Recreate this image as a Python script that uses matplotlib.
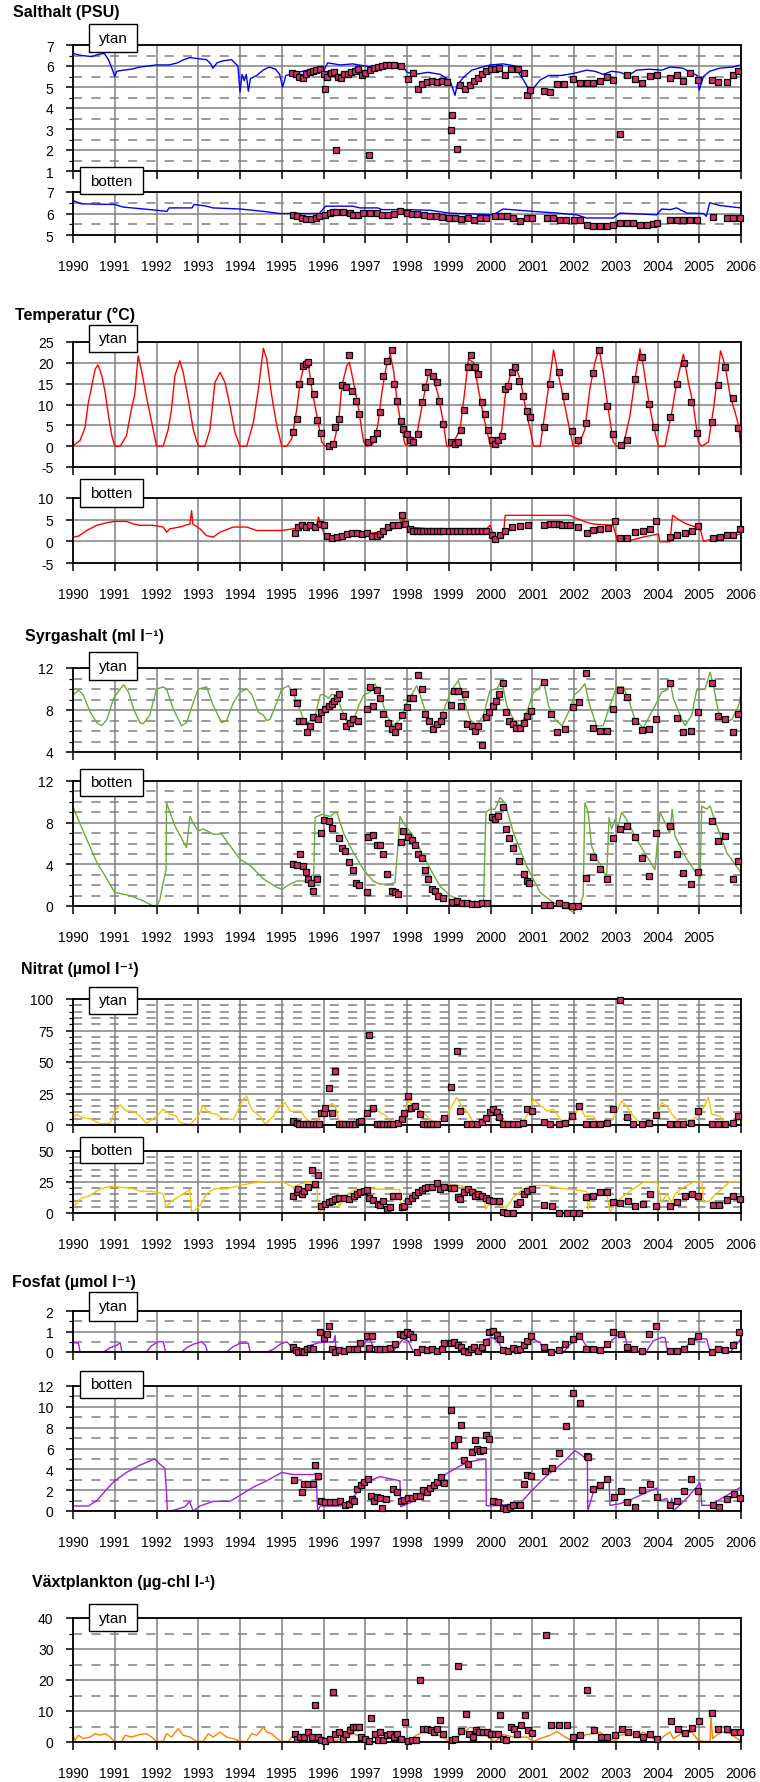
import matplotlib
matplotlib.use('Agg')
import matplotlib.pyplot as plt
from matplotlib.patches import Rectangle

plt.rcParams['font.family'] = ['Liberation Sans', 'DejaVu Sans']

# ---------------- DATA ----------------
years = list(range(1990, 2007))

sal_ytan_line = [(1990.0,6.6),(1990.2,6.5),(1990.45,6.45),(1990.6,6.55),(1990.75,6.6),(1990.85,6.3),(1990.95,5.8),(1991.0,5.5),(1991.05,5.75),(1991.2,5.8),(1991.4,5.85),(1991.6,5.95),(1991.8,6.0),(1992.0,6.05),(1992.3,6.05),(1992.5,6.15),(1992.65,6.3),(1992.8,6.4),(1993.0,6.35),(1993.2,6.3),(1993.3,6.1),(1993.35,5.9),(1993.45,6.15),(1993.6,6.25),(1993.8,6.3),(1993.95,6.0),(1994.0,4.75),(1994.05,5.6),(1994.1,5.3),(1994.15,5.6),(1994.2,4.8),(1994.25,5.4),(1994.4,5.55),(1994.55,5.8),(1994.7,5.95),(1994.85,5.85),(1994.95,5.6),(1995.02,5.0),(1995.1,5.55),(1995.3,5.65),(1995.5,5.75),(1995.7,5.85),(1995.85,5.9),(1996.0,5.75),(1996.1,6.15),(1996.4,6.05),(1996.7,6.1),(1997.0,6.0),(1997.3,5.9),(1997.6,6.05),(1997.9,6.0),(1998.0,5.7),(1998.2,5.6),(1998.5,5.7),(1998.8,5.6),(1998.95,5.4),(1999.05,5.2),(1999.15,4.6),(1999.2,5.1),(1999.35,5.45),(1999.55,5.8),(1999.8,5.95),(2000.0,6.05),(2000.3,6.1),(2000.6,6.0),(2000.7,5.6),(2000.8,5.3),(2000.9,4.95),(2000.95,4.6),(2001.05,5.0),(2001.2,5.35),(2001.4,5.55),(2001.7,5.55),(2002.0,5.65),(2002.3,5.8),(2002.5,5.75),(2002.7,5.6),(2002.9,5.75),(2003.1,5.7),(2003.3,5.55),(2003.5,5.8),(2003.8,5.85),(2004.1,5.8),(2004.3,5.95),(2004.6,5.9),(2004.8,5.7),(2004.95,5.55),(2005.0,4.85),(2005.1,5.5),(2005.25,5.75),(2005.5,5.9),(2005.8,5.95),(2006.0,6.05)]
sal_ytan_obs = [(1995.25,5.65),(1995.33,5.6),(1995.42,5.5),(1995.5,5.45),(1995.58,5.6),(1995.67,5.7),(1995.75,5.75),(1995.83,5.8),(1995.92,5.85),(1996.0,5.6),(1996.04,4.9),(1996.08,5.5),(1996.17,5.65),(1996.25,5.7),(1996.3,2.0),(1996.35,5.5),(1996.42,5.45),(1996.5,5.6),(1996.58,5.6),(1996.67,5.7),(1996.75,5.75),(1996.83,5.85),(1996.92,5.55),(1997.0,5.65),(1997.08,1.75),(1997.12,5.8),(1997.2,5.9),(1997.3,5.95),(1997.4,6.0),(1997.5,6.05),(1997.6,6.05),(1997.7,6.05),(1997.85,6.0),(1998.03,5.4),(1998.15,5.65),(1998.27,4.9),(1998.35,5.15),(1998.47,5.25),(1998.6,5.3),(1998.72,5.25),(1998.85,5.3),(1998.95,5.25),(1999.07,3.65),(1999.05,2.95),(1999.19,2.05),(1999.27,5.1),(1999.4,4.9),(1999.5,5.1),(1999.6,5.3),(1999.7,5.45),(1999.8,5.6),(1999.9,5.75),(2000.0,5.85),(2000.1,5.85),(2000.2,5.9),(2000.35,5.55),(2000.5,5.85),(2000.65,5.85),(2000.8,5.65),(2000.87,4.6),(2000.95,4.85),(2001.27,4.8),(2001.43,4.75),(2001.6,5.15),(2001.75,5.15),(2001.98,5.4),(2002.14,5.2),(2002.3,5.2),(2002.46,5.2),(2002.62,5.3),(2002.78,5.48),(2002.94,5.33),(2003.1,2.78),(2003.26,5.56),(2003.46,5.37),(2003.62,5.17),(2003.82,5.52),(2003.98,5.55),(2004.3,5.44),(2004.46,5.56),(2004.62,5.29),(2004.78,5.65),(2004.98,5.33),(2005.3,5.32),(2005.46,5.24),(2005.66,5.24),(2005.82,5.57),(2005.94,5.76)]

sal_bott_line = [(1990.0,6.6),(1990.2,6.45),(1991.0,6.42),(1991.2,6.3),(1991.85,6.18),(1992.25,6.1),(1992.3,6.26),(1992.85,6.26),(1992.9,6.42),(1993.2,6.34),(1993.35,6.26),(1994.0,6.21),(1994.55,6.1),(1994.95,6.0),(1995.9,6.0),(1996.05,6.34),(1996.7,6.34),(1996.87,6.26),(1997.3,6.26),(1997.4,6.18),(1998.0,6.18),(1998.55,6.15),(1999.0,6.02),(2000.07,5.94),(2000.3,6.21),(2001.0,6.1),(2001.6,6.02),(2002.06,5.94),(2002.3,5.79),(2002.94,5.79),(2003.1,6.02),(2003.98,5.94),(2004.1,6.21),(2004.3,6.18),(2004.46,6.26),(2004.7,6.02),(2005.1,6.0),(2005.17,5.87),(2005.25,6.5),(2005.5,6.37),(2006.0,6.26)]
sal_bott_obs = [(1995.28,5.94),(1995.36,5.87),(1995.48,5.79),(1995.58,5.76),(1995.7,5.76),(1995.82,5.79),(1995.9,5.87),(1996.03,5.94),(1996.15,6.02),(1996.23,6.07),(1996.31,6.08),(1996.47,6.07),(1996.63,6.02),(1996.7,5.94),(1996.82,5.94),(1996.95,6.02),(1997.11,6.02),(1997.27,6.02),(1997.4,5.95),(1997.55,5.95),(1997.7,5.97),(1997.83,6.1),(1998.0,6.02),(1998.12,6.0),(1998.25,5.97),(1998.4,5.92),(1998.55,5.9),(1998.7,5.88),(1998.85,5.85),(1999.0,5.8),(1999.15,5.78),(1999.3,5.75),(1999.45,5.78),(1999.6,5.72),(1999.75,5.78),(1999.9,5.8),(2000.1,5.87),(2000.25,5.87),(2000.4,5.87),(2000.55,5.8),(2000.7,5.63),(2000.87,5.79),(2001.0,5.79),(2001.35,5.79),(2001.5,5.79),(2001.66,5.7),(2001.82,5.7),(2002.0,5.7),(2002.15,5.7),(2002.3,5.46),(2002.46,5.42),(2002.62,5.42),(2002.78,5.44),(2002.94,5.46),(2003.1,5.55),(2003.26,5.55),(2003.42,5.55),(2003.58,5.47),(2003.74,5.47),(2003.9,5.5),(2003.98,5.55),(2004.3,5.7),(2004.46,5.7),(2004.62,5.72),(2004.78,5.7),(2004.94,5.7),(2005.33,5.83),(2005.66,5.79),(2005.82,5.79),(2005.98,5.79)]

temp_ytan_line = [(1990.0,0),(1990.17,1.4),(1990.29,4.5),(1990.36,10),(1990.45,14.5),(1990.53,18.5),(1990.6,19.5),(1990.69,16.9),(1990.77,12.9),(1990.85,7.3),(1990.93,2.5),(1991.0,0),(1991.13,0),(1991.28,2.5),(1991.4,8.9),(1991.48,12.5),(1991.56,21.7),(1991.65,17.7),(1991.77,11.3),(1991.9,5),(1992.0,0),(1992.16,0),(1992.28,4),(1992.36,8.9),(1992.44,16.9),(1992.56,20.5),(1992.64,17.7),(1992.76,11.3),(1992.88,4),(1993.0,0),(1993.16,0),(1993.28,4),(1993.4,15.3),(1993.52,17.7),(1993.64,15.3),(1993.76,9.7),(1993.88,3.3),(1994.0,0),(1994.16,0),(1994.32,5.7),(1994.44,13.7),(1994.56,23.5),(1994.64,20.9),(1994.76,12.1),(1994.88,5),(1995.0,0),(1995.12,0),(1995.24,1.8),(1995.36,8.9),(1995.44,15.3),(1995.56,20.5),(1995.64,19.4),(1995.72,13.7),(1995.84,7.3),(1995.96,1),(1996.04,0),(1996.24,0.5),(1996.36,5.7),(1996.44,14.5),(1996.56,19.3),(1996.62,20.1),(1996.72,15.3),(1996.84,8.9),(1996.96,1),(1997.04,0),(1997.18,0.5),(1997.3,5),(1997.4,13),(1997.5,19),(1997.6,22),(1997.68,18),(1997.76,11),(1997.86,5),(1997.95,0.5),(1998.07,0),(1998.23,2.5),(1998.39,11.3),(1998.51,17.2),(1998.63,16.5),(1998.75,12.1),(1998.87,5.7),(1998.95,0),(1999.07,0),(1999.27,4),(1999.39,13.7),(1999.47,20.9),(1999.59,20.1),(1999.71,13.7),(1999.83,7.3),(2000.0,0),(2000.15,0),(2000.27,4),(2000.35,12),(2000.47,16.9),(2000.59,19.3),(2000.71,16.1),(2000.83,9.7),(2000.95,4),(2001.03,0),(2001.19,0),(2001.35,11.3),(2001.43,16.9),(2001.51,23.1),(2001.58,19.3),(2001.7,13.7),(2001.86,5.7),(2001.98,0),(2002.1,0),(2002.26,4),(2002.38,13.7),(2002.5,20.1),(2002.6,23.4),(2002.7,17.7),(2002.82,8.9),(2002.94,1),(2003.02,0),(2003.18,0.2),(2003.34,7.3),(2003.46,16.1),(2003.58,23.4),(2003.66,19.3),(2003.78,11.3),(2003.9,5),(2004.02,0),(2004.18,0),(2004.34,8.1),(2004.46,15.3),(2004.62,22.1),(2004.74,15.3),(2004.86,9.7),(2004.98,1),(2005.06,0),(2005.22,1),(2005.34,8.9),(2005.42,15.3),(2005.51,22.9),(2005.62,19.3),(2005.74,12.1),(2005.86,8.1),(2005.94,5),(2006.0,-0.5)]
temp_ytan_obs = [(1995.28,3.5),(1995.36,6.5),(1995.42,15),(1995.5,19.3),(1995.58,19.7),(1995.64,20.1),(1995.68,15.7),(1995.77,12.5),(1995.85,6.3),(1995.93,3.1),(1996.12,0),(1996.22,0.5),(1996.28,4.7),(1996.36,6.5),(1996.44,14.7),(1996.54,14.1),(1996.6,21.9),(1996.68,13.3),(1996.78,10.9),(1996.86,7.7),(1997.07,1),(1997.18,1.8),(1997.27,3.1),(1997.35,8.1),(1997.43,16.9),(1997.51,20.5),(1997.63,23.1),(1997.69,14.9),(1997.77,10.9),(1997.85,6.1),(1997.91,4.1),(1997.99,2.9),(1998.07,1.4),(1998.15,1),(1998.27,2.9),(1998.35,10.7),(1998.43,14.1),(1998.51,17.7),(1998.63,16.9),(1998.71,15.3),(1998.77,10.9),(1998.87,5.3),(1999.05,1.1),(1999.15,0.6),(1999.23,1.1),(1999.29,3.9),(1999.37,8.7),(1999.45,19),(1999.53,21.8),(1999.63,18.9),(1999.69,17.3),(1999.79,10.7),(1999.87,7.7),(1999.93,3.9),(2000.03,1.4),(2000.11,0.6),(2000.19,1.4),(2000.27,2.5),(2000.35,13.7),(2000.43,14.5),(2000.51,17.7),(2000.59,19.1),(2000.69,15.7),(2000.79,12.1),(2000.87,8.5),(2000.95,6.9),(2001.27,4.7),(2001.43,14.9),(2001.63,17.8),(2001.79,12.1),(2001.95,3.7),(2002.1,1.4),(2002.29,5.6),(2002.45,17.5),(2002.6,23.1),(2002.78,9.6),(2002.94,2.9),(2003.12,0.2),(2003.28,1.4),(2003.46,16.1),(2003.62,21.3),(2003.8,10.1),(2003.94,4.5),(2004.3,6.9),(2004.46,14.9),(2004.63,19.9),(2004.8,10.5),(2004.95,3.1),(2005.3,5.7),(2005.44,14.7),(2005.62,18.9),(2005.8,11.6),(2005.94,4.3)]

temp_bott_line = [(1990.0,1),(1990.13,1.2),(1990.33,2.5),(1990.57,3.7),(1990.81,4.3),(1991.0,4.6),(1991.28,4.6),(1991.45,4),(1991.6,3.7),(1991.92,3.7),(1992.16,3.3),(1992.24,2.1),(1992.32,2.9),(1992.56,3.3),(1992.8,4),(1992.84,7.1),(1992.87,4),(1993.04,2.9),(1993.2,1.3),(1993.36,1),(1993.52,2.1),(1993.84,3.3),(1994.16,3.3),(1994.4,2.5),(1995.0,2.5),(1995.28,2.9),(1995.84,3.7),(1995.88,5.6),(1995.96,3.3),(1996.04,1),(1996.24,1.3),(1996.72,1.5),(1996.96,1.7),(1997.35,2.1),(1997.67,2.9),(1997.91,5.2),(1998.03,3.3),(1998.95,2.5),(1999.91,2.9),(1999.99,3.7),(2000.07,1.3),(2000.19,0.6),(2000.31,1.3),(2000.35,6),(2001.27,6),(2001.9,6),(2001.98,5.6),(2002.3,4.4),(2002.46,4),(2002.94,3.7),(2003.04,0),(2003.34,0.2),(2003.66,1),(2004.02,1.7),(2004.06,-0.1),(2004.3,-0.1),(2004.36,6),(2004.54,4.8),(2004.7,4),(2005.02,3),(2005.1,0),(2005.34,0.6),(2005.66,1),(2006.0,1.7)]
temp_bott_obs = [(1995.32,2),(1995.4,3.3),(1995.48,3.7),(1995.58,3.3),(1995.68,3.7),(1995.8,3.4),(1995.92,4),(1996.0,3.8),(1996.08,1.2),(1996.2,0.7),(1996.32,1),(1996.44,1.2),(1996.56,1.6),(1996.68,2),(1996.8,2),(1996.92,1.7),(1997.03,2),(1997.15,1.2),(1997.27,1.3),(1997.35,1.7),(1997.43,2.5),(1997.55,3.3),(1997.67,3.7),(1997.79,3.8),(1997.87,6),(1997.95,4),(1998.07,2.9),(1998.15,2.5),(1998.23,2.5),(1998.31,2.4),(1998.39,2.5),(1998.47,2.5),(1998.55,2.4),(1998.63,2.5),(1998.71,2.5),(1998.79,2.5),(1998.87,2.4),(1999.0,2.5),(1999.1,2.5),(1999.2,2.4),(1999.3,2.5),(1999.4,2.5),(1999.5,2.5),(1999.6,2.4),(1999.7,2.5),(1999.8,2.5),(1999.9,2.5),(2000.03,1.5),(2000.11,0.6),(2000.23,1.5),(2000.35,2.5),(2000.51,3.3),(2000.71,3.5),(2000.91,3.7),(2001.27,3.8),(2001.43,3.9),(2001.51,4),(2001.63,3.9),(2001.71,3.8),(2001.83,3.8),(2001.91,3.8),(2002.1,3.3),(2002.3,2),(2002.46,2.7),(2002.62,2.9),(2002.82,3),(2002.98,4.6),(2003.1,0.7),(2003.26,0.7),(2003.46,2.1),(2003.66,2.5),(2003.82,2.9),(2003.96,4.8),(2004.3,1),(2004.46,1.5),(2004.66,2),(2004.82,2.5),(2004.98,3.5),(2005.34,0.7),(2005.5,1),(2005.66,1.5),(2005.82,1.5),(2005.98,2.9)]

syr_ytan_line = [(1990.0,9.4),(1990.13,9.9),(1990.25,9.4),(1990.41,7.8),(1990.57,6.8),(1990.69,6.5),(1990.81,7.1),(1990.97,9.1),(1991.13,10),(1991.22,10.4),(1991.33,9.7),(1991.45,8.1),(1991.6,6.8),(1991.68,6.7),(1991.84,7.5),(1992.0,10),(1992.16,10.2),(1992.24,10),(1992.4,8.1),(1992.6,6.5),(1992.72,6.8),(1992.88,8.7),(1993.0,10),(1993.2,10.2),(1993.36,8.4),(1993.56,6.8),(1993.68,7),(1993.84,8.7),(1994.0,9.7),(1994.16,10),(1994.28,9.5),(1994.44,7.8),(1994.56,7.5),(1994.64,7),(1994.72,7.1),(1994.88,8.7),(1995.0,10),(1995.16,10.3),(1995.28,9.5),(1995.4,8.4),(1995.52,7.1),(1995.64,6.8),(1995.8,7.5),(1995.92,9.4),(1996.0,9.5),(1996.12,9.1),(1996.2,9.5),(1996.32,9.4),(1996.4,8.4),(1996.56,6.8),(1996.72,7),(1996.84,8.4),(1996.96,9.4),(1997.11,9.7),(1997.23,10.5),(1997.35,9.5),(1997.51,7.5),(1997.67,6.5),(1997.83,7.1),(1997.99,8.7),(1998.15,9.7),(1998.23,10.3),(1998.31,9.5),(1998.47,7.5),(1998.63,6.5),(1998.79,7.1),(1998.95,8.7),(1999.07,9.9),(1999.23,10.8),(1999.35,9.1),(1999.51,7.1),(1999.67,6.5),(1999.83,7.5),(1999.99,9.9),(2000.15,10),(2000.27,10.8),(2000.39,8.4),(2000.55,7.1),(2000.71,6.5),(2000.87,7.8),(2001.03,9.7),(2001.15,10),(2001.27,10.8),(2001.39,8.4),(2001.55,7.1),(2001.71,6.5),(2001.87,7.8),(2002.02,9.5),(2002.14,9.9),(2002.26,10.5),(2002.38,8.4),(2002.54,6.5),(2002.7,6.5),(2002.86,8.4),(2003.02,10.2),(2003.18,10.2),(2003.3,9.1),(2003.46,7.1),(2003.66,6.3),(2003.82,7.5),(2003.98,8.7),(2004.1,9.7),(2004.22,9.9),(2004.3,10.8),(2004.38,9.1),(2004.54,7.5),(2004.66,6.5),(2004.82,7.5),(2004.94,9.9),(2005.14,10),(2005.26,11.6),(2005.34,10.3),(2005.46,7.8),(2005.62,6.8),(2005.78,7.1),(2005.94,8.4),(2006.0,9.5)]
syr_ytan_obs = [(1995.28,9.7),(1995.36,8.7),(1995.42,7),(1995.52,7),(1995.6,5.9),(1995.68,6.5),(1995.76,7.3),(1995.88,7.1),(1995.93,7.8),(1996.04,8.1),(1996.12,8.4),(1996.2,8.6),(1996.24,8.9),(1996.32,9.1),(1996.38,9.5),(1996.47,7.4),(1996.55,6.5),(1996.63,6.8),(1996.71,7.1),(1996.83,7),(1997.03,8.1),(1997.11,10.2),(1997.19,8.4),(1997.27,9.9),(1997.35,9.1),(1997.43,7.6),(1997.55,6.8),(1997.63,6.2),(1997.71,5.9),(1997.79,6.5),(1997.87,7.5),(1997.99,8.3),(1998.07,9.1),(1998.15,9.1),(1998.27,11.3),(1998.35,10),(1998.43,7.6),(1998.53,7),(1998.63,6.2),(1998.71,6.7),(1998.81,7),(1998.87,7.5),(1999.05,8.5),(1999.13,9.8),(1999.21,9.8),(1999.29,8.4),(1999.39,9.5),(1999.44,6.7),(1999.55,6.5),(1999.63,6),(1999.71,6.5),(1999.79,4.7),(1999.89,7.3),(1999.97,7.8),(2000.05,8.4),(2000.13,8.9),(2000.21,9.5),(2000.29,10.6),(2000.37,7.8),(2000.45,7),(2000.53,6.7),(2000.61,6.3),(2000.71,6.3),(2000.8,6.8),(2000.88,7.4),(2000.96,7.9),(2001.28,10.7),(2001.44,7.6),(2001.6,5.9),(2001.78,6.2),(2001.98,8.3),(2002.13,8.8),(2002.29,11.5),(2002.45,6.3),(2002.62,6),(2002.78,6),(2002.94,8.1),(2003.1,9.9),(2003.26,9.2),(2003.46,7),(2003.62,6.1),(2003.8,6.2),(2003.96,7.1),(2004.3,10.6),(2004.46,7.2),(2004.62,5.9),(2004.8,6),(2004.98,7.8),(2005.3,10.6),(2005.46,7.4),(2005.62,7.1),(2005.8,5.9),(2005.94,7.6)]

syr_bott_line = [(1990.0,9.6),(1990.05,9.0),(1990.33,6.4),(1990.57,4.2),(1990.81,2.6),(1991.0,1.3),(1991.37,1.0),(1991.68,0.5),(1991.92,0),(1992.0,0),(1992.08,0.6),(1992.16,2.2),(1992.23,3.5),(1992.24,9.9),(1992.32,9.0),(1992.44,7.7),(1992.72,5.6),(1992.8,8.6),(1992.87,8.0),(1993.0,7.2),(1993.12,7.4),(1993.36,6.9),(1993.56,6.9),(1993.76,5.8),(1994.0,4.5),(1994.24,3.9),(1994.56,2.6),(1994.88,1.8),(1995.0,1.6),(1995.2,2.1),(1995.36,2.4),(1995.52,2.4),(1995.76,2.2),(1995.8,8.5),(1995.96,8.8),(1996.16,8.6),(1996.28,9.0),(1996.32,9.0),(1996.48,7.0),(1996.72,5.1),(1996.96,3.5),(1997.19,2.4),(1997.35,2.1),(1997.51,2.1),(1997.71,2.2),(1997.79,6.1),(1997.83,8.6),(1997.91,8.0),(1998.15,6.7),(1998.47,4.2),(1998.79,1.9),(1999.03,1.0),(1999.43,0.3),(1999.83,0.2),(1999.89,9.0),(1999.99,9.3),(2000.11,9.3),(2000.23,10.4),(2000.35,9.9),(2000.55,7.0),(2000.87,3.8),(2001.19,1.3),(2001.51,0.3),(2001.83,-0.2),(2001.98,-0.6),(2002.14,0),(2002.22,1.0),(2002.26,9.9),(2002.34,9.0),(2002.42,5.8),(2002.54,4.5),(2002.66,3.8),(2002.78,2.7),(2002.84,8.5),(2002.9,7.4),(2002.98,8.3),(2003.06,7.7),(2003.14,9.0),(2003.26,8.3),(2003.5,6.4),(2003.74,4.8),(2003.94,3.5),(2004.06,9.0),(2004.18,8.0),(2004.3,7.0),(2004.35,9.3),(2004.42,6.7),(2004.7,4.5),(2005.02,2.6),(2005.06,9.6),(2005.18,9.3),(2005.26,9.6),(2005.34,8.6),(2005.66,5.1),(2006.0,3.2)]
syr_bott_obs = [(1995.28,4),(1995.36,3.9),(1995.44,5),(1995.52,3.8),(1995.58,3.3),(1995.64,2.6),(1995.7,2.2),(1995.76,1.4),(1995.84,2.6),(1995.93,7),(1996.0,8.3),(1996.12,8.2),(1996.2,7.5),(1996.36,6.5),(1996.44,5.6),(1996.52,5.3),(1996.62,4.2),(1996.7,3.5),(1996.78,2.2),(1996.86,2),(1997.03,1.3),(1997.07,6.6),(1997.18,6.8),(1997.27,5.9),(1997.35,5.9),(1997.43,5),(1997.51,3.1),(1997.63,1.4),(1997.71,1.3),(1997.79,1.2),(1997.85,6.1),(1997.91,7.2),(1998.03,6.6),(1998.11,6.3),(1998.19,5.9),(1998.27,5),(1998.35,4.6),(1998.43,3.5),(1998.51,2.6),(1998.59,1.6),(1998.67,1.4),(1998.75,1),(1998.87,0.8),(1999.07,0.4),(1999.19,0.5),(1999.31,0.3),(1999.43,0.3),(1999.55,0.2),(1999.67,0.2),(1999.79,0.3),(1999.92,0.3),(2000.03,8.5),(2000.11,8.4),(2000.19,8.6),(2000.29,9.5),(2000.37,7.4),(2000.45,6.5),(2000.53,5.6),(2000.69,4.3),(2000.8,3.1),(2000.87,2.4),(2000.93,2.2),(2001.27,0.1),(2001.43,0.1),(2001.63,0.3),(2001.79,0.1),(2001.95,0),(2002.1,0),(2002.29,2.7),(2002.46,4.7),(2002.62,3.6),(2002.78,2.6),(2002.94,6.5),(2003.1,7.4),(2003.26,7.7),(2003.46,6.6),(2003.62,4.6),(2003.8,2.9),(2003.96,7),(2004.3,7.7),(2004.46,5),(2004.62,3.2),(2004.8,2.1),(2004.98,3.3),(2005.3,8.2),(2005.46,6.2),(2005.62,6.7),(2005.8,2.6),(2005.94,4.3)]

nit_ytan_line = [(1990.0,5),(1990.09,8.5),(1990.21,6),(1990.41,5),(1990.65,1),(1990.89,1.3),(1991.0,11),(1991.13,16),(1991.28,11),(1991.45,11),(1991.6,7),(1991.76,1.3),(1992.0,7),(1992.16,12.5),(1992.32,8.5),(1992.48,7),(1992.56,2),(1992.8,0.5),(1993.0,7),(1993.12,15.6),(1993.24,9.8),(1993.44,8.5),(1993.6,4.5),(1993.84,4.5),(1994.0,15),(1994.08,20.4),(1994.16,23),(1994.24,15),(1994.32,11),(1994.48,7),(1994.6,0.5),(1994.8,7),(1994.96,15),(1995.08,17.8),(1995.2,11),(1995.44,11),(1995.6,4.5),(1995.76,0.5),(1995.92,7),(1996.04,12.5),(1996.2,17.2),(1996.28,15),(1996.36,4.5),(1996.48,0.5),(1996.88,2),(1997.03,10),(1997.15,15),(1997.27,12.5),(1997.35,10),(1997.51,7),(1997.67,0.5),(1997.91,7),(1998.03,19),(1998.15,15),(1998.39,10),(1998.55,4.5),(1998.71,0.5),(1998.91,4.5),(1999.03,12.5),(1999.19,21.8),(1999.31,15),(1999.43,11),(1999.59,2),(1999.75,2),(1999.91,6),(2000.07,11),(2000.23,7),(2000.39,2),(2000.71,0.5),(2000.87,7),(2001.03,20.4),(2001.15,16.5),(2001.27,13.8),(2001.35,11),(2001.51,12.5),(2001.67,4.5),(2001.83,0.5),(2001.98,6),(2002.14,15),(2002.26,7),(2002.46,7),(2002.58,0.5),(2002.86,2),(2003.02,10),(2003.14,19),(2003.26,15),(2003.42,7),(2003.58,2),(2003.82,2),(2004.02,10),(2004.1,17.8),(2004.22,15),(2004.38,7),(2004.54,2),(2004.86,4.5),(2005.06,11),(2005.22,21.8),(2005.3,8.5),(2005.5,7),(2005.58,0.5),(2005.82,2),(2006.0,4.5)]
nit_ytan_obs = [(1995.28,3.2),(1995.36,1.9),(1995.42,0.5),(1995.5,0.5),(1995.58,0.5),(1995.66,0.5),(1995.74,0.5),(1995.82,0.5),(1995.9,0.5),(1995.93,9.3),(1996.0,9.8),(1996.04,13.3),(1996.12,29.7),(1996.2,9.3),(1996.28,43),(1996.36,0.5),(1996.44,0.5),(1996.52,0.5),(1996.6,0.5),(1996.68,0.5),(1996.76,0.5),(1996.84,2.7),(1996.9,3.2),(1997.03,9.8),(1997.1,71.4),(1997.18,13.3),(1997.27,0.5),(1997.35,0.5),(1997.43,0.5),(1997.51,0.5),(1997.59,0.5),(1997.67,0.5),(1997.79,1.9),(1997.87,4.5),(1997.92,9.8),(1998.03,23),(1998.09,13.8),(1998.19,15),(1998.3,8.5),(1998.38,0.5),(1998.47,0.5),(1998.55,0.5),(1998.63,0.5),(1998.71,0.5),(1998.88,5.8),(1999.05,30),(1999.2,59),(1999.27,11),(1999.43,0.5),(1999.55,0.5),(1999.67,0.5),(1999.79,2.4),(1999.89,5.8),(1999.99,10.3),(2000.07,12.5),(2000.15,10.6),(2000.21,6.6),(2000.31,0.5),(2000.43,0.5),(2000.55,0.5),(2000.67,0.5),(2000.79,1.9),(2000.87,12.5),(2000.99,11),(2001.28,2.7),(2001.43,0.5),(2001.63,0.5),(2001.79,1.9),(2001.95,7.2),(2002.13,15),(2002.29,0.5),(2002.45,0.5),(2002.62,0.5),(2002.78,1.9),(2002.94,12.5),(2003.1,99.5),(2003.26,6.6),(2003.42,0.5),(2003.62,0.5),(2003.8,1.9),(2003.96,7.7),(2004.3,0.5),(2004.46,0.5),(2004.62,0.5),(2004.8,1.9),(2004.98,11),(2005.3,0.5),(2005.46,0.5),(2005.62,0.5),(2005.8,1.9),(2005.94,7.2)]

nit_bott_line = [(1990.0,4.6),(1990.17,11.4),(1990.41,14),(1990.65,19.5),(1990.89,21.4),(1991.0,21.4),(1991.45,19.5),(1991.6,17.6),(1991.84,17.6),(1992.0,16.8),(1992.16,15.4),(1992.23,4.6),(1992.32,8.6),(1992.56,14),(1992.8,18.9),(1992.84,0),(1993.04,5.9),(1993.2,15.4),(1993.36,19.5),(1993.68,19.5),(1994.0,22.2),(1994.32,24.3),(1994.64,25.4),(1995.0,25.4),(1995.2,22.2),(1995.28,20.8),(1995.44,23.5),(1995.68,24.9),(1995.84,25.4),(1995.88,0.5),(1996.0,3.2),(1996.16,10),(1996.32,15.4),(1996.38,4.6),(1996.48,13.5),(1996.72,18.1),(1996.96,19.5),(1997.83,18.9),(1997.85,0),(1997.99,5.9),(1998.15,12.7),(1998.39,18.1),(1998.71,23.5),(1998.95,23.5),(1999.27,22.2),(1999.59,19.5),(1999.83,15.4),(1999.89,3.2),(1999.99,8.6),(2000.23,5.9),(2000.39,4.6),(2000.55,12.7),(2000.79,19.5),(2001.03,22.2),(2001.35,22.2),(2001.67,20),(2002.14,18.1),(2002.3,17.3),(2002.34,3.2),(2002.42,12.7),(2002.78,16.8),(2002.86,0.5),(2002.94,5.9),(2003.1,11.4),(2003.42,19.5),(2003.66,24.9),(2003.98,25.4),(2004.1,8.6),(2004.22,15.4),(2004.34,8.6),(2004.42,15.4),(2004.62,20.8),(2004.86,24.9),(2005.06,25.4),(2005.1,8.6),(2005.26,10),(2005.34,13.5),(2005.5,18.1),(2005.74,25.4),(2006.0,25.4)]
nit_bott_obs = [(1995.28,14),(1995.36,16.8),(1995.4,19.5),(1995.48,15.4),(1995.53,18.1),(1995.64,20.8),(1995.72,34.3),(1995.8,23.5),(1995.88,30.3),(1995.93,5.9),(1996.04,7.3),(1996.12,8.6),(1996.2,10),(1996.28,11.4),(1996.36,11.9),(1996.48,11.9),(1996.6,11.4),(1996.72,14),(1996.8,15.4),(1996.88,16.8),(1996.96,18.1),(1997.03,18.9),(1997.1,11.9),(1997.19,10.8),(1997.31,7.3),(1997.35,6.5),(1997.43,10),(1997.51,3.2),(1997.59,4.6),(1997.67,13.5),(1997.79,13.5),(1997.87,4.6),(1997.93,5.9),(1998.03,10),(1998.11,11.9),(1998.19,14.6),(1998.27,16.8),(1998.35,18.9),(1998.43,20),(1998.51,20.8),(1998.61,20.8),(1998.71,24.3),(1998.79,19.5),(1998.89,20.8),(1999.05,20),(1999.13,20),(1999.21,12.7),(1999.27,11.4),(1999.37,16.8),(1999.47,19.5),(1999.55,16.8),(1999.63,13.5),(1999.71,15.4),(1999.79,13.5),(1999.89,11.9),(1999.97,10.8),(2000.07,10),(2000.21,10),(2000.29,0.5),(2000.39,0),(2000.55,0),(2000.63,7.3),(2000.71,8.6),(2000.8,15.4),(2000.87,18.1),(2000.99,19.5),(2001.28,6.5),(2001.47,5.9),(2001.65,0),(2001.83,0),(2001.98,0),(2002.13,0),(2002.29,12.7),(2002.46,14),(2002.62,16.8),(2002.78,17.3),(2002.94,8.6),(2003.1,8.1),(2003.3,10),(2003.46,5.9),(2003.66,7.3),(2003.82,15.4),(2003.96,5.9),(2004.3,5.9),(2004.46,8.6),(2004.66,14),(2004.82,15.4),(2004.98,13.5),(2005.32,6.5),(2005.48,6.5),(2005.66,10.8),(2005.82,14),(2005.98,11.4)]

fos_ytan_line = [(1990.0,0.46),(1990.13,0.43),(1990.17,0),(1990.73,0),(1990.89,0.21),(1991.05,0.33),(1991.13,0.46),(1991.17,0),(1991.76,0),(1991.88,0.3),(1992.04,0.5),(1992.16,0.5),(1992.22,0),(1992.6,0),(1992.72,0.21),(1992.88,0.38),(1993.08,0.5),(1993.18,0.3),(1993.22,0),(1993.68,0),(1993.84,0.26),(1994.0,0.43),(1994.2,0.43),(1994.24,0),(1994.64,0),(1994.8,0.13),(1994.96,0.38),(1995.12,0.5),(1995.2,0.33),(1995.28,0.13),(1995.4,0.05),(1995.6,0.25),(1995.8,0.4),(1995.92,0.46),(1996.24,0.5),(1996.28,0.8),(1996.3,0),(1996.72,0),(1996.88,0.26),(1997.03,0.55),(1997.11,0.63),(1997.19,0.26),(1997.27,0),(1997.67,0.05),(1997.91,0.63),(1998.03,0.55),(1998.15,0),(1998.79,0),(1998.95,0.26),(1999.11,0.46),(1999.27,0.26),(1999.31,0),(1999.75,0.05),(1999.91,0.63),(2000.03,0.71),(2000.19,0.5),(2000.31,0),(2000.71,0.05),(2000.87,0.38),(2001.03,0.63),(2001.19,0.46),(2001.27,0),(2001.75,0),(2001.91,0.38),(2002.14,0.71),(2002.22,0.55),(2002.34,0.13),(2002.46,0),(2002.78,0.26),(2002.94,0.63),(2003.1,0.88),(2003.22,0.83),(2003.3,0),(2003.74,0.05),(2003.9,0.55),(2004.1,0.71),(2004.18,0.71),(2004.24,0),(2004.58,0.05),(2004.78,0.46),(2005.02,0.66),(2005.18,0.63),(2005.26,0),(2005.74,0),(2005.9,0.38),(2006.0,0.66)]
fos_ytan_obs = [(1995.28,0.26),(1995.34,0.1),(1995.4,0),(1995.48,0.05),(1995.53,0),(1995.6,0.17),(1995.68,0.21),(1995.76,0.17),(1995.92,1.0),(1996.0,0.66),(1996.08,0.88),(1996.12,1.29),(1996.2,0.13),(1996.28,0),(1996.36,0.1),(1996.48,0.05),(1996.6,0.13),(1996.72,0.13),(1996.8,0.17),(1996.88,0.46),(1997.03,0.8),(1997.1,0.21),(1997.15,0.8),(1997.27,0.17),(1997.35,0.13),(1997.47,0.13),(1997.59,0.21),(1997.71,0.38),(1997.83,0.88),(1997.91,0.83),(1997.99,1.0),(1998.07,0.88),(1998.15,0.71),(1998.25,0),(1998.35,0.13),(1998.47,0.1),(1998.59,0.13),(1998.71,0.05),(1998.83,0.13),(1998.89,0.46),(1999.05,0.46),(1999.13,0.5),(1999.21,0.33),(1999.29,0.26),(1999.37,0.05),(1999.45,0),(1999.53,0.17),(1999.61,0.26),(1999.71,0.05),(1999.79,0.26),(1999.89,0.5),(1999.97,1.0),(2000.07,1.04),(2000.15,0.83),(2000.23,0.63),(2000.31,0.1),(2000.43,0.05),(2000.53,0.21),(2000.63,0.1),(2000.71,0.17),(2000.8,0.33),(2000.88,0.55),(2000.96,0.8),(2001.28,0.26),(2001.44,0),(2001.63,0.1),(2001.79,0.38),(2001.97,0.63),(2002.13,0.8),(2002.29,0.17),(2002.46,0.17),(2002.62,0.1),(2002.78,0.38),(2002.94,1.0),(2003.12,0.88),(2003.26,0.26),(2003.44,0.13),(2003.62,0.05),(2003.8,0.88),(2003.96,1.29),(2004.3,0.05),(2004.46,0.05),(2004.63,0.13),(2004.8,0.55),(2004.98,0.8),(2005.3,0),(2005.46,0.13),(2005.62,0.1),(2005.8,0.33),(2005.95,0.96)]

fos_bott_line = [(1990.0,0.48),(1990.37,0.48),(1990.57,1.0),(1990.81,2.1),(1991.0,2.9),(1991.28,3.7),(1991.6,4.4),(1991.96,5.0),(1992.08,4.5),(1992.2,4.1),(1992.24,1.8),(1992.26,0),(1992.4,0.06),(1992.68,0.4),(1992.79,0.9),(1992.84,0.4),(1992.88,0),(1993.04,0.48),(1993.36,0.93),(1993.76,0.93),(1994.0,1.5),(1994.32,2.3),(1994.64,2.9),(1995.0,3.7),(1995.28,3.5),(1995.76,3.5),(1995.82,3.6),(1995.86,0),(1995.92,0.48),(1996.4,0.48),(1996.63,1.0),(1996.88,2.1),(1997.11,2.9),(1997.35,3.3),(1997.59,3.1),(1997.83,2.9),(1997.85,0.4),(1998.15,0.93),(1998.55,2.1),(1998.95,3.6),(1999.35,4.5),(1999.59,4.8),(1999.89,5.0),(1999.9,0.54),(1999.99,0.48),(2000.71,0.7),(2000.95,1.8),(2001.35,3.4),(2001.75,4.7),(2002.02,5.8),(2002.14,5.5),(2002.32,4.9),(2002.33,0),(2002.46,1.8),(2002.62,2.5),(2002.84,3.1),(2002.86,0.54),(2003.1,0.7),(2003.42,1.2),(2003.74,1.8),(2003.98,2.2),(2004.06,1.0),(2004.22,1.2),(2004.3,0.4),(2004.34,1.25),(2004.38,0),(2004.7,1.2),(2005.02,2.7),(2005.06,0.54),(2005.26,0.54),(2005.66,1.5),(2006.0,2.3)]
fos_bott_obs = [(1995.3,3.0),(1995.48,1.8),(1995.53,2.6),(1995.64,2.6),(1995.74,2.6),(1995.8,4.4),(1995.88,3.4),(1995.93,0.93),(1996.04,0.86),(1996.16,0.86),(1996.28,0.86),(1996.4,0.93),(1996.52,0.54),(1996.6,0.7),(1996.68,1.2),(1996.73,0.93),(1996.81,2.1),(1996.89,2.5),(1996.97,2.8),(1997.07,3.1),(1997.13,1.4),(1997.21,1.0),(1997.29,1.3),(1997.35,1.25),(1997.41,0.3),(1997.5,1.2),(1997.66,2.1),(1997.75,1.8),(1997.85,1.0),(1997.93,1.1),(1998.03,1.25),(1998.11,1.25),(1998.22,1.4),(1998.31,1.4),(1998.39,2.0),(1998.47,1.8),(1998.55,2.2),(1998.65,2.5),(1998.73,2.8),(1998.81,3.3),(1998.89,2.7),(1999.05,9.7),(1999.13,6.3),(1999.21,6.9),(1999.29,8.3),(1999.37,4.9),(1999.47,4.5),(1999.55,5.7),(1999.63,6.8),(1999.68,6.0),(1999.76,5.8),(1999.83,5.9),(1999.89,7.3),(1999.97,6.9),(2000.07,1.0),(2000.19,0.86),(2000.29,0.3),(2000.37,0.16),(2000.47,0.4),(2000.55,0.54),(2000.71,0.54),(2000.8,2.6),(2000.88,3.5),(2000.96,3.4),(2001.3,3.8),(2001.47,4.1),(2001.63,5.6),(2001.81,8.2),(2001.97,11.3),(2002.14,10.4),(2002.3,5.3),(2002.34,5.2),(2002.46,2.1),(2002.62,2.5),(2002.8,3.1),(2002.96,1.3),(2003.12,1.9),(2003.28,0.86),(2003.46,0.4),(2003.64,2.0),(2003.82,2.6),(2003.98,1.3),(2004.3,0.6),(2004.46,1.0),(2004.63,1.9),(2004.8,3.1),(2004.98,1.9),(2005.32,0.54),(2005.48,0.4),(2005.66,1.2),(2005.83,1.6),(2005.98,1.25)]

vax_line = [(1990.0,2.2),(1990.05,0.5),(1990.13,2.2),(1990.25,1.1),(1990.41,1.6),(1990.53,2.7),(1990.65,2.2),(1990.77,2.7),(1990.89,1.6),(1991.0,0),(1991.17,0.2),(1991.25,2.2),(1991.4,1.6),(1991.6,2.4),(1991.76,2.7),(1991.88,1.6),(1992.0,0.2),(1992.16,0.2),(1992.24,2.7),(1992.36,1.6),(1992.52,4.3),(1992.64,2.2),(1992.8,1.6),(1992.96,0.2),(1993.12,0.2),(1993.24,2.7),(1993.36,1.6),(1993.52,3.2),(1993.68,1.6),(1993.84,1.1),(1994.0,0.2),(1994.16,0.2),(1994.28,2.7),(1994.4,2.2),(1994.56,4.8),(1994.64,3.2),(1994.76,2.7),(1994.88,1.1),(1995.0,0.2),(1995.16,0.2),(1995.28,2.2),(1995.5,2.0),(1995.68,1.6),(1995.92,0.5),(1996.08,1.1),(1996.32,0.5),(1996.56,2.2),(1996.72,2.7),(1996.96,1.1),(1997.11,0.5),(1997.27,2.2),(1997.35,3.2),(1997.59,2.2),(1997.83,1.1),(1998.03,0.2),(1998.23,2.2),(1998.39,3.2),(1998.67,2.7),(1998.91,1.1),(1999.03,0),(1999.27,2.2),(1999.51,4.8),(1999.75,3.8),(1999.99,1.1),(2000.11,0.2),(2000.31,2.4),(2000.55,1.6),(2000.87,1.6),(2001.03,0.2),(2001.19,1.1),(2001.43,2.2),(2001.59,3.4),(2001.79,1.6),(2001.98,0.2),(2002.14,1.6),(2002.3,2.4),(2002.46,2.7),(2002.62,3.2),(2002.78,1.6),(2002.98,0.2),(2003.1,2.2),(2003.3,2.7),(2003.5,2.2),(2003.66,3.2),(2003.82,1.6),(2004.02,0.2),(2004.18,2.2),(2004.3,3.2),(2004.38,1.1),(2004.58,2.7),(2004.82,3.2),(2004.98,0.5),(2005.14,0.2),(2005.26,0.2),(2005.28,8.6),(2005.32,1.1),(2005.42,2.2),(2005.54,3.2),(2005.74,2.7),(2006.0,0.2)]
vax_obs = [(1995.32,2.7),(1995.37,1.1),(1995.44,1.6),(1995.53,1.6),(1995.64,3.2),(1995.72,1.6),(1995.8,11.8),(1995.88,1.6),(1995.93,0.5),(1996.04,0.2),(1996.16,1.1),(1996.22,16.1),(1996.28,2.7),(1996.36,3.2),(1996.46,1.1),(1996.55,2.7),(1996.63,3.8),(1996.7,4.8),(1996.78,4.8),(1996.84,4.8),(1996.89,1.6),(1996.99,0.9),(1997.1,0.2),(1997.13,7.7),(1997.23,2.7),(1997.31,0.5),(1997.35,3.2),(1997.43,0.5),(1997.51,2.2),(1997.59,2.7),(1997.69,1.6),(1997.77,2.7),(1997.85,1.1),(1997.95,6.5),(1998.03,0.2),(1998.11,0.5),(1998.22,0.5),(1998.3,19.9),(1998.39,4.3),(1998.47,4.3),(1998.57,3.8),(1998.65,3.2),(1998.73,4.3),(1998.79,7.0),(1998.87,2.7),(1999.07,0.5),(1999.15,0.9),(1999.23,24.5),(1999.29,3.4),(1999.41,9.1),(1999.49,2.7),(1999.57,1.6),(1999.65,3.8),(1999.73,3.2),(1999.83,3.2),(1999.92,3.2),(2000.0,2.7),(2000.11,2.7),(2000.19,2.7),(2000.23,8.8),(2000.29,1.1),(2000.37,0.5),(2000.48,4.8),(2000.56,4.3),(2000.64,2.7),(2000.72,5.6),(2000.83,8.8),(2000.91,3.8),(2000.99,3.0),(2001.33,34.6),(2001.46,5.6),(2001.65,5.4),(2001.83,5.6),(2001.98,1.6),(2002.14,2.2),(2002.3,16.7),(2002.48,3.8),(2002.64,1.6),(2002.8,1.6),(2002.98,2.4),(2003.14,4.3),(2003.3,3.2),(2003.48,2.7),(2003.66,1.6),(2003.82,2.7),(2003.98,1.1),(2004.32,6.7),(2004.48,4.3),(2004.66,3.0),(2004.82,4.5),(2004.99,6.7),(2005.31,9.5),(2005.46,4.3),(2005.66,4.1),(2005.84,3.2),(2005.98,3.2)]

# ---------------- STYLE / LAYOUT ----------------
W, H = 760, 1783
X0, X1 = 73, 741
GRID = '#808080'
MARK_FC = '#CC3366'

fig = plt.figure(figsize=(W / 100, H / 100), dpi=100)
fig.patch.set_facecolor('white')


def fig_rect(x0, y0, x1, y1):
    return (x0 / W, 1 - y1 / H, (x1 - x0) / W, (y1 - y0) / H)


def box_label(text, rect):
    x0, y0, x1, y1 = rect
    fig.add_artist(Rectangle((x0 / W, 1 - y1 / H), (x1 - x0) / W, (y1 - y0) / H,
                             transform=fig.transFigure, facecolor='white',
                             edgecolor='black', lw=1.0, zorder=20))
    fig.text((x0 + x1) / 2 / W, 1 - (y0 + y1) / 2 / H, text, ha='center', va='center',
             fontsize=11, zorder=21)


def title(text, x, y):
    fig.text(x / W, 1 - y / H, text, ha='left', va='center', fontsize=11.5,
             fontweight='bold')


def panel(top, bot, ylim, major, minor, line, obs, color, label, rect,
          xlabels=False, skip_last=False, line_clip=True):
    ax = fig.add_axes([X0 / W, 1 - bot / H, (X1 - X0) / W, (bot - top) / H])
    ax.set_xlim(1990, 2006)
    ax.set_ylim(*ylim)
    ax.set_axisbelow(True)
    ax.set_xticks(years)
    if xlabels:
        labs = [str(y) for y in years]
        if skip_last:
            labs[-1] = ''
        ax.set_xticklabels(labs)
    else:
        ax.set_xticklabels([])
    ax.set_yticks(major)
    ax.set_yticklabels([str(v) for v in major])
    if minor:
        ax.set_yticks(minor, minor=True)
        ax.grid(True, axis='y', which='minor', color=GRID, lw=1.1, ls=(0, (6, 6)))
    ax.grid(True, axis='x', which='major', color=GRID, lw=1.1, ls='-')
    ax.grid(True, axis='y', which='major', color=GRID, lw=1.1, ls='-')
    ax.tick_params(axis='x', which='major', direction='out', length=6, width=1.1,
                   color='black', labelsize=10, pad=11)
    ax.tick_params(axis='y', which='major', direction='out', length=5, width=1.1,
                   color='black', labelsize=10, pad=9)
    ax.tick_params(axis='y', which='minor', direction='out', length=3, width=0.9,
                   color='black')
    for s in ax.spines.values():
        s.set_color('black')
        s.set_linewidth(1.3)
    lx = [p[0] for p in line]
    ly = [p[1] for p in line]
    ax.plot(lx, ly, color=color, lw=1.0, zorder=2, clip_on=line_clip)
    ox = [p[0] for p in obs]
    oy = [p[1] for p in obs]
    ax.plot(ox, oy, ls='none', marker='s', ms=4.6, mfc=MARK_FC, mec='black',
            mew=0.9, zorder=3, clip_on=False)
    box_label(label, rect)
    return ax


# Salthalt
title('Salthalt (PSU)', 13, 12)
panel(46, 172, (1, 7), [1, 2, 3, 4, 5, 6, 7], [1.5, 2.5, 3.5, 4.5, 5.5, 6.5],
      sal_ytan_line, sal_ytan_obs, '#0000FF', 'ytan', (89, 25, 137, 53))
panel(193, 236, (5, 7), [5, 6, 7], [5.5, 6.5],
      sal_bott_line, sal_bott_obs, '#0000FF', 'botten', (80, 168, 143, 195), xlabels=True)

# Temperatur
title('Temperatur (°C)', 15, 315)
panel(343, 468, (-5, 25), [-5, 0, 5, 10, 15, 20, 25], [],
      temp_ytan_line, temp_ytan_obs, '#FF0000', 'ytan', (89, 326, 137, 353))
panel(499, 564, (-5, 10), [-5, 0, 5, 10], [],
      temp_bott_line, temp_bott_obs, '#FF0000', 'botten', (80, 480, 143, 508), xlabels=True)

# Syrgashalt
title('Syrgashalt (ml l⁻¹)', 25, 637)
panel(669, 753, (4, 12), [4, 8, 12], [5, 6, 7, 9, 10, 11],
      syr_ytan_line, syr_ytan_obs, '#6EAA3C', 'ytan', (89, 653, 137, 681))
panel(782, 907, (0, 12), [0, 4, 8, 12], [1, 2, 3, 5, 6, 7, 9, 10, 11],
      syr_bott_line, syr_bott_obs, '#6EAA3C', 'botten', (80, 770, 143, 797),
      xlabels=True, skip_last=True, line_clip=False)

# Nitrat
title('Nitrat (µmol l⁻¹)', 21, 970)
panel(1000, 1126, (0, 100), [0, 25, 50, 75, 100],
      [5, 10, 15, 20, 30, 35, 40, 45, 55, 60, 65, 70, 80, 85, 90, 95],
      nit_ytan_line, nit_ytan_obs, '#F5C400', 'ytan', (89, 988, 137, 1015))
panel(1152, 1214, (0, 50), [0, 25, 50], [5, 10, 15, 20, 30, 35, 40, 45],
      nit_bott_line, nit_bott_obs, '#F5C400', 'botten', (80, 1138, 143, 1164), xlabels=True)

# Fosfat
title('Fosfat (µmol l⁻¹)', 12, 1283)
panel(1312, 1353, (0, 2), [0, 1, 2], [0.5, 1.5],
      fos_ytan_line, fos_ytan_obs, '#A020E6', 'ytan', (89, 1293, 137, 1322))
panel(1387, 1512, (0, 12), [0, 2, 4, 6, 8, 10, 12], [1, 3, 5, 7, 9, 11],
      fos_bott_line, fos_bott_obs, '#A020E6', 'botten', (80, 1372, 143, 1399), xlabels=True)

# Växtplankton
title('Växtplankton (µg-chl l-¹)', 32, 1583)
panel(1619, 1743, (0, 40), [0, 10, 20, 30, 40], [5, 15, 25, 35],
      vax_line, vax_obs, '#FF8000', 'ytan', (89, 1605, 137, 1632), xlabels=True)

fig.savefig('out.png', dpi=100, facecolor='white')
